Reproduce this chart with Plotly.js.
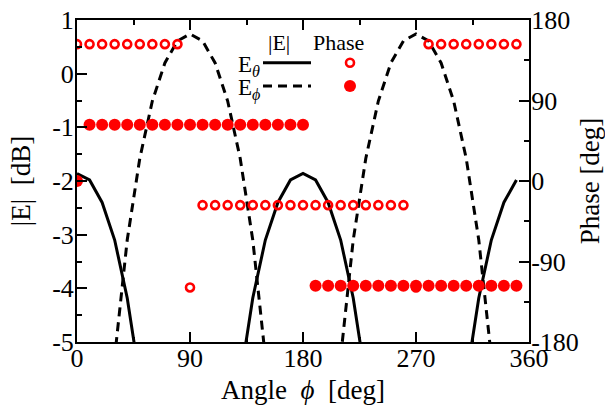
<!DOCTYPE html>
<html><head><meta charset="utf-8">
<script src="https://cdn.plot.ly/plotly-3.0.1.min.js"></script>
<style>html,body{margin:0;padding:0;background:#fff}#chart{width:605px;height:405px}</style>
</head><body><div id="chart"></div>
<script>
// Angle phi [deg]
const angles = [0,10,20,30,40,50,60,70,80,90,100,110,120,130,140,150,160,170,
                180,190,200,210,220,230,240,250,260,270,280,290,300,310,320,330,340,350];
// |E| [dB]
const eThetaDb = [-1.86,-1.98,-2.40,-3.10,-4.18,-5.70,-7.9,-11.2,-17.0,-40,
                  -17.0,-11.2,-7.9,-5.70,-4.18,-3.10,-2.40,-1.98,
                  -1.86,-1.98,-2.40,-3.10,-4.18,-5.70,-7.9,-11.2,-17.0,-40,
                  -17.0,-11.2,-7.9,-5.70,-4.18,-3.10,-2.40,-1.98];
const ePhiDb = [-40,-14.5,-8.6,-5.28,-3.10,-1.58,-0.51,0.20,0.61,0.74,
                0.61,0.20,-0.51,-1.58,-3.10,-5.28,-8.6,-14.5,
                -40,-14.5,-8.6,-5.28,-3.10,-1.58,-0.51,0.20,0.61,0.74,
                0.61,0.20,-0.51,-1.58,-3.10,-5.28,-8.6,-14.5];
// Phase [deg]
const phaseTheta = [153,153,153,153,153,153,153,153,153,-119,
                    -27,-27,-27,-27,-27,-27,-27,-27,
                    -27,-27,-27,-27,-27,-27,-27,-27,-27,-119,
                    153,153,153,153,153,153,153,153];
const phasePhi = [0,63,63,63,63,63,63,63,63,63,
                  63,63,63,63,63,63,63,63,
                  63,-117,-117,-117,-117,-117,-117,-117,-117,-117,
                  -117,-117,-117,-117,-117,-117,-117,-117];
// Tick labels
const xTickVals = [0,90,180,270,360];
const xTickText = ['0','90','180','270','360'];
const yTickVals = [-5,-4,-3,-2,-1,0,1];
const yTickText = ['-5','-4','-3','-2','-1','0','1'];
const y2TickVals = [-180,-90,0,90,180];
const y2TickText = ['-180','-90','0','90','180'];

const FONT = 'Liberation Serif, Times New Roman, serif';
const RED = '#ff0000';

const traces = [
  {x: angles, y: phaseTheta, yaxis: 'y2', mode: 'markers', name: 'Phase Eθ',
   marker: {symbol: 'circle-open', size: 8, color: RED, line: {color: RED, width: 2.6}}},
  {x: angles, y: phasePhi, yaxis: 'y2', mode: 'markers', name: 'Phase Eϕ',
   marker: {symbol: 'circle', size: 12, color: RED, line: {width: 0}}},
  {x: angles, y: eThetaDb, mode: 'lines', name: '|Eθ|',
   line: {color: '#000', width: 3}},
  {x: angles, y: ePhiDb, mode: 'lines', name: '|Eϕ|',
   line: {color: '#000', width: 3, dash: '9px,6px'}}
];

// plot area in pixels: left 77, right 529, top 20, bottom 342
const px = v => (v - 77) / 452;
const py = v => (342 - v) / 322;

const axCommon = {
  showgrid: false, zeroline: false, showline: true, linecolor: '#000', linewidth: 2,
  ticks: 'inside', ticklen: 10, tickwidth: 2, tickcolor: '#000',
  tickfont: {family: FONT, size: 26, color: '#000'},
  fixedrange: true
};

const layout = {
  width: 605, height: 405,
  margin: {l: 77, r: 76, t: 20, b: 63},
  paper_bgcolor: '#fff', plot_bgcolor: '#fff',
  showlegend: false,
  font: {family: FONT, color: '#000'},
  xaxis: Object.assign({}, axCommon, {
    range: [0, 360], tickmode: 'array', tickvals: xTickVals, ticktext: xTickText,
    mirror: 'ticks', ticklabelstandoff: -8,
    minor: {dtick: 45, ticks: 'inside', ticklen: 5, tickwidth: 2, tickcolor: '#000', showgrid: false},
    title: {text: 'Angle  <i>ϕ</i>  [deg]', font: {family: FONT, size: 27, color: '#000'}, standoff: 28}
  }),
  yaxis: Object.assign({}, axCommon, {
    range: [-5, 1], tickmode: 'array', tickvals: yTickVals, ticktext: yTickText,
    ticklabelstandoff: -4,
    minor: {dtick: 0.5, ticks: 'inside', ticklen: 5, tickwidth: 2, tickcolor: '#000', showgrid: false},
    title: {text: '|E|  [dB]', font: {family: FONT, size: 27, color: '#000'}, standoff: 14}
  }),
  yaxis2: Object.assign({}, axCommon, {
    overlaying: 'y', side: 'right',
    range: [-180, 180], tickmode: 'array', tickvals: y2TickVals, ticktext: y2TickText,
    ticklabelstandoff: -5,
    minor: {dtick: 45, ticks: 'inside', ticklen: 5, tickwidth: 2, tickcolor: '#000', showgrid: false},
    title: {text: 'Phase [deg]', font: {family: FONT, size: 27, color: '#000'}, standoff: 10}
  }),
  annotations: [
    {xref: 'paper', yref: 'paper', x: px(279), y: py(43), text: '|E|', showarrow: false,
     xanchor: 'center', yanchor: 'middle', font: {family: FONT, size: 22, color: '#000'}},
    {xref: 'paper', yref: 'paper', x: px(338), y: py(43), text: 'Phase', showarrow: false,
     xanchor: 'center', yanchor: 'middle', font: {family: FONT, size: 22, color: '#000'}},
    {xref: 'paper', yref: 'paper', x: px(262), y: py(66), text: 'E<sub><i>θ</i></sub>', showarrow: false,
     xanchor: 'right', yanchor: 'middle', font: {family: FONT, size: 23, color: '#000'}},
    {xref: 'paper', yref: 'paper', x: px(262), y: py(89), text: 'E<sub><i>ϕ</i></sub>', showarrow: false,
     xanchor: 'right', yanchor: 'middle', font: {family: FONT, size: 23, color: '#000'}}
  ],
  shapes: [
    {type: 'line', xref: 'paper', yref: 'paper', x0: px(263), x1: px(311), y0: py(62.7), y1: py(62.7),
     line: {color: '#000', width: 3}},
    {type: 'line', xref: 'paper', yref: 'paper', x0: px(263), x1: px(311), y0: py(86), y1: py(86),
     line: {color: '#000', width: 3, dash: '9px,6px'}},
    {type: 'circle', xref: 'paper', yref: 'paper', xsizemode: 'pixel', ysizemode: 'pixel',
     xanchor: px(350), yanchor: py(62.7), x0: -4, x1: 4, y0: -4, y1: 4,
     line: {color: RED, width: 2.6}},
    {type: 'circle', xref: 'paper', yref: 'paper', xsizemode: 'pixel', ysizemode: 'pixel',
     xanchor: px(350), yanchor: py(86), x0: -6, x1: 6, y0: -6, y1: 6,
     fillcolor: RED, line: {color: RED, width: 0}}
  ]
};

Plotly.newPlot('chart', traces, layout, {displayModeBar: false, staticPlot: true});
</script>
</body></html>
